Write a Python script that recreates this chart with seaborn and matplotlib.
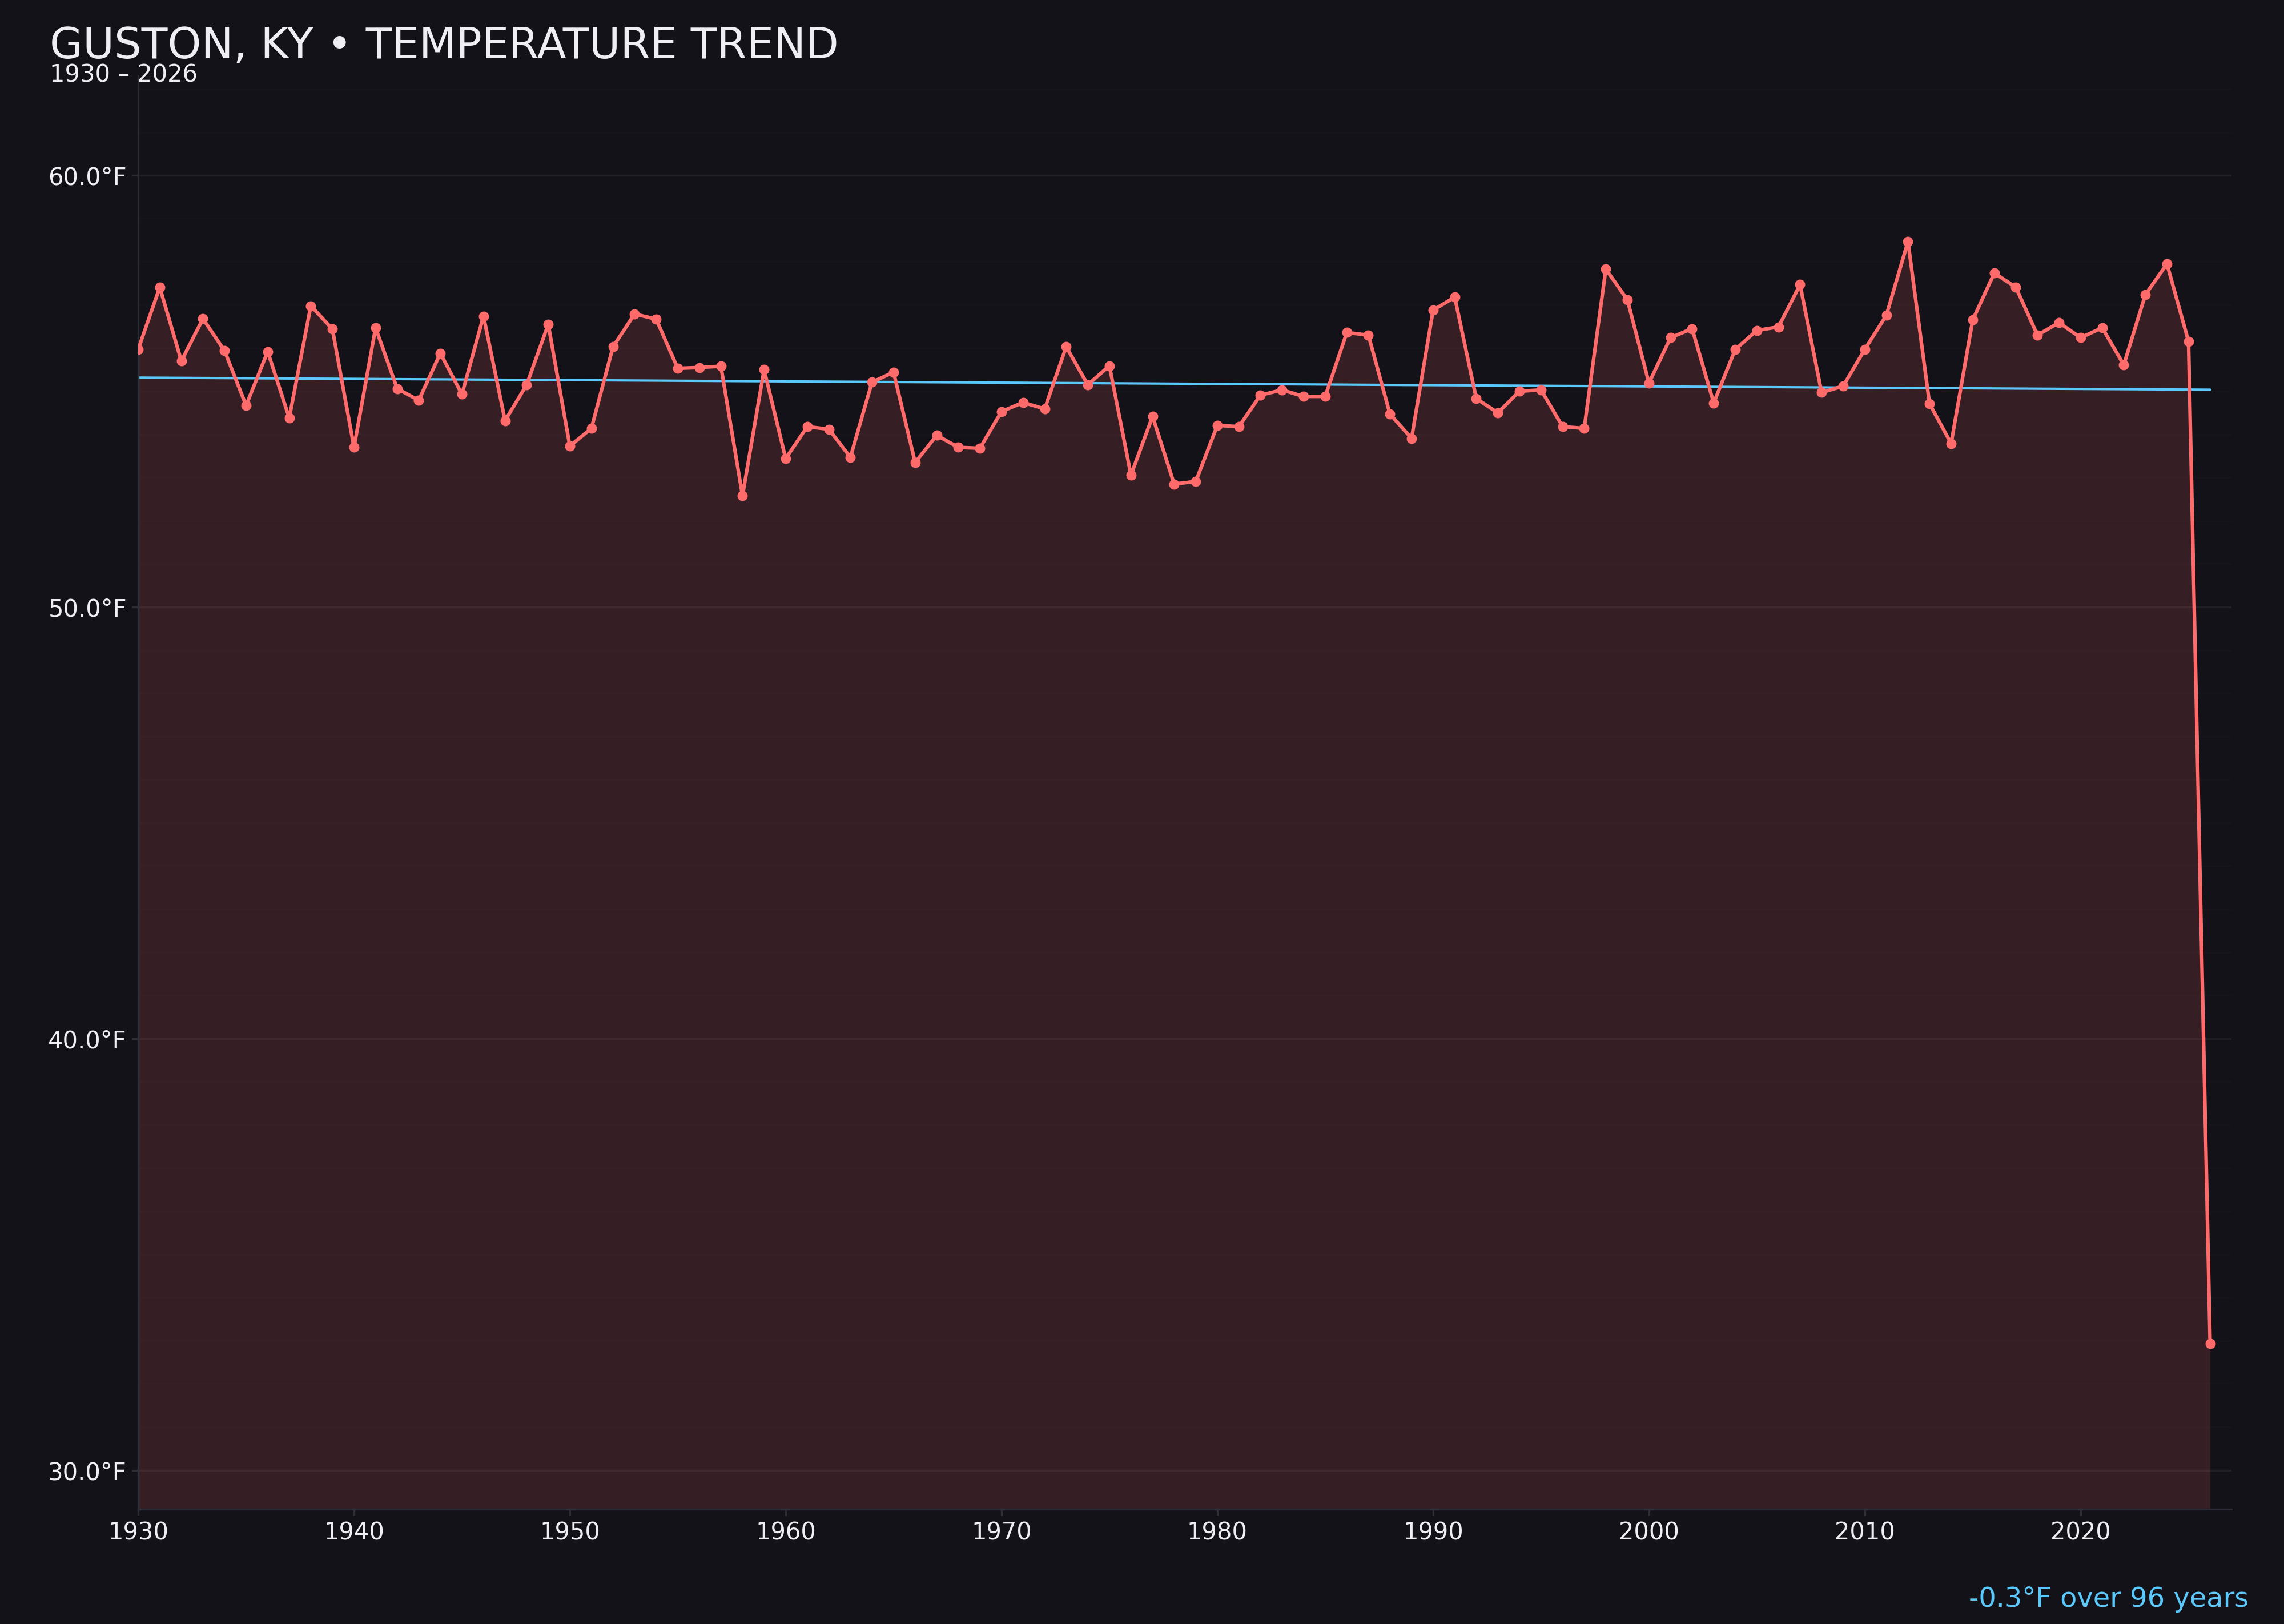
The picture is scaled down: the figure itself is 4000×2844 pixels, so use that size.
import numpy as np
import pandas as pd
import matplotlib
matplotlib.use("Agg")
import matplotlib.pyplot as plt
from matplotlib.ticker import MultipleLocator, FuncFormatter
import seaborn as sns

# annual mean temperatures
years = list(range(1930, 2027))
temps = [
    55.97, 57.41, 55.70, 56.68, 55.94, 54.67, 55.92, 54.38, 56.98, 56.44,
    53.70, 56.47, 55.06, 54.79, 55.88, 54.93, 56.74, 54.32, 55.15, 56.55,
    53.73, 54.14, 56.03, 56.79, 56.67, 55.53, 55.55, 55.58, 52.58, 55.50,
    53.44, 54.18, 54.12, 53.47, 55.21, 55.44, 53.35, 53.98, 53.70, 53.68,
    54.53, 54.74, 54.59, 56.03, 55.15, 55.59, 53.06, 54.42, 52.85, 52.91,
    54.21, 54.18, 54.91, 55.03, 54.88, 54.88, 56.36, 56.30, 54.47, 53.91,
    56.88, 57.18, 54.83, 54.50, 55.00, 55.03, 54.18, 54.14, 57.83, 57.12,
    55.19, 56.24, 56.45, 54.73, 55.97, 56.41, 56.49, 57.47, 54.97, 55.12,
    55.97, 56.76, 58.47, 54.71, 53.79, 56.65, 57.74, 57.41, 56.30, 56.59,
    56.24, 56.47, 55.61, 57.24, 57.95, 56.15, 32.93,
]
place = "GUSTON, KY"

BG = "#131218"
RED = "#ff6b6b"
BLUE = "#5ac8fa"
TXT = "#eeeef3"
SPINE = "#2e2e38"

df = pd.DataFrame({"year": years, "temp": temps})

sns.set_theme(style="dark")
plt.rcParams["font.family"] = ["DejaVu Sans"]

fig = plt.figure(figsize=(4000 / 300, 2844 / 300), dpi=300, facecolor=BG)
ax = fig.add_axes([0.0605, 0.0708, 0.9166, 0.8823])
ax.set_facecolor(BG)

lo, hi = min(temps), max(temps)
pad = 0.15 * (hi - lo)
ymin, ymax = lo - pad, hi + pad

ax.fill_between(df["year"], df["temp"], ymin, color=RED, alpha=0.15, lw=0, zorder=1)
sns.lineplot(data=df, x="year", y="temp", ax=ax, color=RED, lw=1.5,
             marker="o", markersize=4.3, markeredgewidth=0, zorder=3)
sns.regplot(data=df, x="year", y="temp", ax=ax, scatter=False, ci=None,
            truncate=True, line_kws={"color": BLUE, "lw": 1.0, "zorder": 2})

slope, icpt = np.polyfit(years, temps, 1)
change = slope * (years[-1] - years[0])

ax.set_xlim(years[0], years[-1] + 1)
ax.set_ylim(ymin, ymax)
ax.xaxis.set_major_locator(MultipleLocator(10))
ax.yaxis.set_major_locator(MultipleLocator(10))
ax.yaxis.set_minor_locator(MultipleLocator(1))
ax.yaxis.set_major_formatter(FuncFormatter(lambda v, p: f"{v:.1f}°F"))
ax.set_xlabel("")
ax.set_ylabel("")

ax.grid(True, which="major", axis="y", color="white", alpha=0.06, lw=0.8)
ax.grid(True, which="minor", axis="y", color="white", alpha=0.015, lw=0.6)
ax.grid(False, axis="x")
ax.set_axisbelow(True)

for side in ["top", "right"]:
    ax.spines[side].set_visible(False)
for side in ["left", "bottom"]:
    ax.spines[side].set_visible(True)
    ax.spines[side].set_color(SPINE)
    ax.spines[side].set_linewidth(0.8)

ax.tick_params(axis="both", which="major", colors=SPINE, labelcolor=TXT,
               labelsize=10, length=2.6, width=0.8, bottom=True, left=True)
ax.tick_params(axis="x", pad=2.5)
ax.tick_params(axis="y", pad=2.2)
ax.tick_params(axis="y", which="minor", length=0)

fig.text(0.0218, 0.9642, f"{place} • TEMPERATURE TREND", color=TXT,
         fontsize=18, ha="left", va="baseline")
fig.text(0.0218, 0.9496, f"{years[0]} – {years[-1]}", color=TXT,
         fontsize=10, ha="left", va="baseline")
fig.text(0.9845, 0.0105, f"{change:+.1f}°F over {years[-1] - years[0]} years".replace("+", ""),
         color=BLUE, fontsize=11.5, ha="right", va="baseline")

fig.savefig("out.png", dpi=300, facecolor=BG)
